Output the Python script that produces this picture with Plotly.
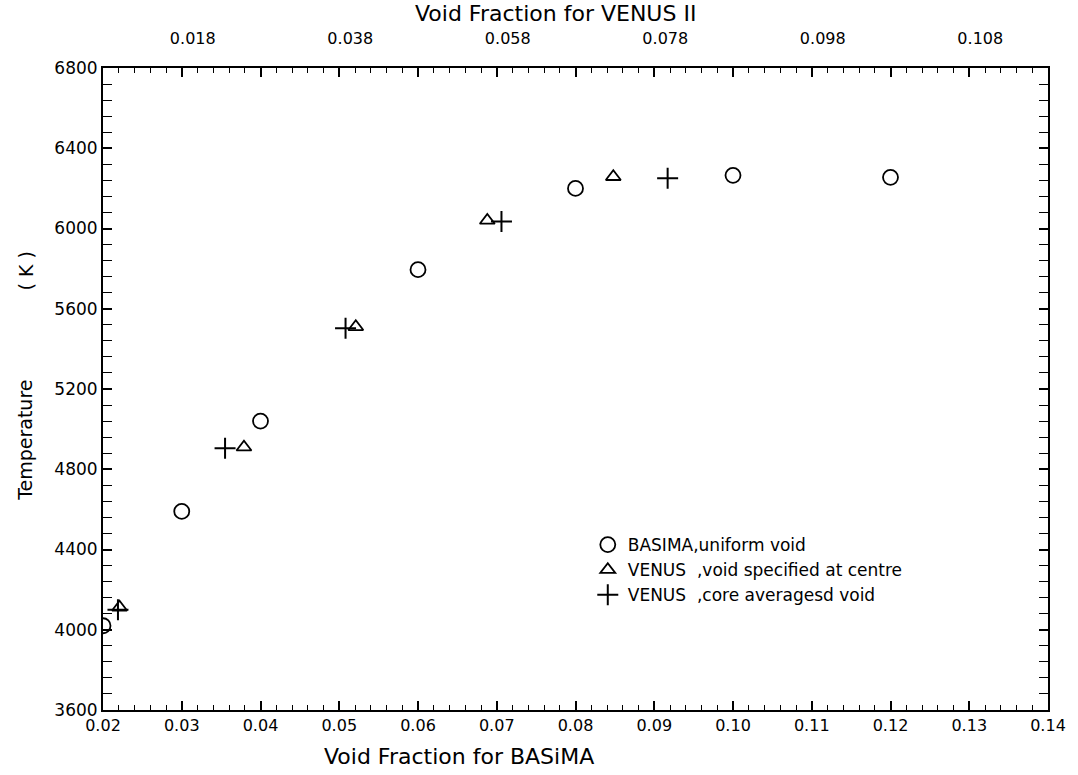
import plotly.graph_objects as go

# BASIMA, uniform void
basima_x = [0.020, 0.030, 0.040, 0.060, 0.080, 0.100, 0.120]
basima_y = [4020, 4590, 5040, 5795, 6200, 6265, 6255]

# VENUS, void specified at centre
venus_c_x = [0.0221, 0.0379, 0.0521, 0.0688, 0.0848]
venus_c_y = [4112, 4910, 5510, 6040, 6258]

# VENUS, core averaged void
venus_a_x = [0.0219, 0.0355, 0.0508, 0.0706, 0.0917]
venus_a_y = [4100, 4905, 5503, 6035, 6250]

bottom_ticks = [0.02, 0.03, 0.04, 0.05, 0.06, 0.07, 0.08, 0.09, 0.10, 0.11, 0.12, 0.13, 0.14]
top_tick_pos = [0.0314, 0.0514, 0.0714, 0.0914, 0.1114, 0.1314]
top_tick_text = ["0.018", "0.038", "0.058", "0.078", "0.098", "0.108"]
y_ticks = [3600, 4000, 4400, 4800, 5200, 5600, 6000, 6400, 6800]

font = "DejaVu Sans"

fig = go.Figure()
fig.add_trace(go.Scatter(
    x=basima_x, y=basima_y, mode="markers", name="BASIMA,uniform void",
    marker=dict(symbol="circle-open", size=15, color="black", line=dict(width=1.8)),
))
fig.add_trace(go.Scatter(
    x=venus_c_x, y=venus_c_y, mode="markers", name="VENUS  ,void specified at centre",
    marker=dict(symbol="triangle-up-open", size=13, color="black", line=dict(width=1.8)),
))
fig.add_trace(go.Scatter(
    x=venus_a_x, y=venus_a_y, mode="markers", name="VENUS  ,core averagesd void",
    marker=dict(symbol="cross-thin-open", size=15, color="black", line=dict(width=2)),
))
# invisible trace to activate the top axis
fig.add_trace(go.Scatter(x=[basima_x[0]], y=[basima_y[0]], xaxis="x2", mode="markers",
                         marker=dict(opacity=0), showlegend=False, hoverinfo="skip"))

fig.update_layout(
    width=1078, height=775,
    margin=dict(l=103, r=22, t=68, b=65),
    plot_bgcolor="white", paper_bgcolor="white",
    font=dict(family=font, color="black", size=16),
    showlegend=True,
    legend=dict(x=0.513, y=0.285, xanchor="left", yanchor="top",
                bgcolor="rgba(0,0,0,0)", font=dict(size=17, family=font),
                itemwidth=30, tracegroupgap=0),
    xaxis=dict(
        range=[0.02, 0.14], tickvals=bottom_ticks, ticktext=[f"{v:.2f}" for v in bottom_ticks],
        ticks="inside", ticklen=9, tickwidth=1.5, tickcolor="black",
        minor=dict(dtick=0.002, ticks="inside", ticklen=5, tickwidth=1.2, tickcolor="black"),
        showline=True, linecolor="black", linewidth=2, mirror="allticks",
        showgrid=False, zeroline=False,
        tickfont=dict(size=16, family=font),
    ),
    xaxis2=dict(
        overlaying="x", side="top", range=[0.02, 0.14],
        tickvals=top_tick_pos, ticktext=top_tick_text, ticks="",
        showgrid=False, zeroline=False, showline=False,
        tickfont=dict(size=16, family=font), ticklabelstandoff=20,
    ),
    yaxis=dict(
        range=[3600, 6800], tickvals=y_ticks,
        ticks="inside", ticklen=9, tickwidth=1.5, tickcolor="black",
        minor=dict(dtick=80, ticks="inside", ticklen=5, tickwidth=1.2, tickcolor="black"),
        showline=True, linecolor="black", linewidth=2, mirror="allticks",
        showgrid=False, zeroline=False,
        tickfont=dict(size=17, family=font),
    ),
    annotations=[
        dict(text="Void Fraction for BASiMA", xref="x", yref="paper", x=0.0652, y=-0.072,
             xanchor="center", yanchor="middle", showarrow=False, font=dict(size=22, family=font)),
        dict(text="Void Fraction for VENUS II", xref="x", yref="paper", x=0.0775, y=1.085,
             xanchor="center", yanchor="middle", showarrow=False, font=dict(size=22, family=font)),
        dict(text="Temperature", xref="paper", yref="paper", x=-0.082, y=0.42, textangle=-90,
             xanchor="center", yanchor="middle", showarrow=False, font=dict(size=19, family=font)),
        dict(text="( K )", xref="paper", yref="paper", x=-0.082, y=0.684, textangle=-90,
             xanchor="center", yanchor="middle", showarrow=False, font=dict(size=19, family=font)),
    ],
)

fig.write_html("out.html")
